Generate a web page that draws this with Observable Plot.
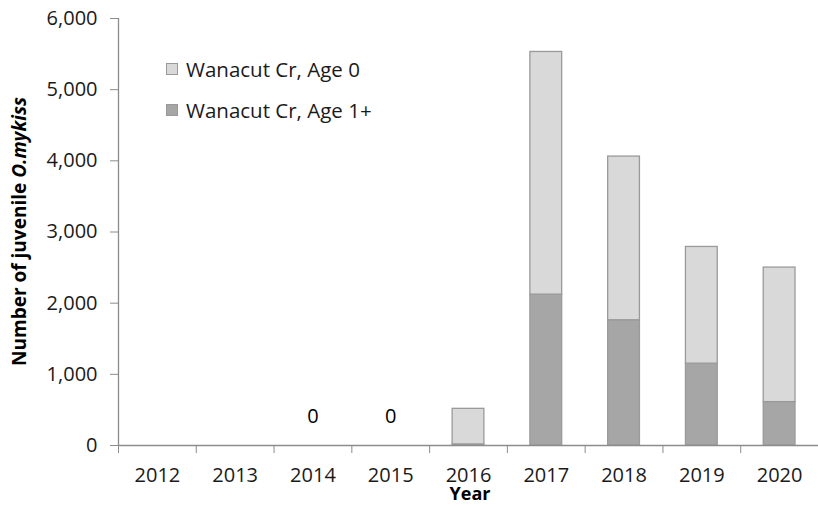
<!DOCTYPE html>
<html>
<head>
<meta charset="utf-8">
<script src="https://cdn.jsdelivr.net/npm/d3@7"></script>
<script src="https://cdn.jsdelivr.net/npm/@observablehq/plot@0.6"></script>
<style>
  html, body { margin: 0; padding: 0; background: #fff; }
  #wrap { position: relative; width: 818px; height: 506px; font-family: "Open Sans", sans-serif; color: #1a1a1a; }
  #legend { position: absolute; left: 166px; top: 58px; font-size: 20.5px; }
  .row { display: flex; align-items: center; height: 22px; margin-bottom: 19px; }
  .sw { width: 12px; height: 12px; box-sizing: border-box; border: 1px solid #999; margin-right: 8px; }
</style>
</head>
<body>
<div id="wrap"><div id="legend"></div></div>
<script>
const years = [2012, 2013, 2014, 2015, 2016, 2017, 2018, 2019, 2020];
const age1plus = [null, null, 0, 0, 15, 2120, 1760, 1150, 610];
const age0 = [null, null, 0, 0, 500, 3410, 2300, 1640, 1890];
const seriesNames = ["Wanacut Cr, Age 0", "Wanacut Cr, Age 1+"];
const seriesColors = ["#d9d9d9", "#a6a6a6"];
const yTicks = [0, 1000, 2000, 3000, 4000, 5000, 6000];

// stacked rows: Age 1+ at the bottom, Age 0 on top
const rows = [];
years.forEach((yr, i) => {
  if (age1plus[i] == null) return;
  rows.push({year: yr, series: seriesNames[1], y1: 0, y2: age1plus[i]});
  rows.push({year: yr, series: seriesNames[0], y1: age1plus[i], y2: age1plus[i] + age0[i]});
});
const zeroLabels = years
  .map((yr, i) => ({year: yr, total: age1plus[i] == null ? null : age1plus[i] + age0[i]}))
  .filter(d => d.total === 0);
const boundaries = years.map(y => y - 0.5).concat([years[years.length - 1] + 0.5]);
const axisColor = "#8c8c8c";

const plot = Plot.plot({
  width: 818,
  height: 506,
  marginLeft: 118,
  marginRight: 0,
  marginTop: 18,
  marginBottom: 61,
  style: {fontFamily: "Open Sans, sans-serif", fontSize: "20px", color: "#1a1a1a", background: "#fff"},
  x: {domain: [years[0] - 0.5, years[years.length - 1] + 0.5]},
  y: {domain: [0, 6000]},
  color: {domain: seriesNames, range: seriesColors},
  marks: [
    Plot.rect(rows, {
      x1: d => d.year - 0.5, x2: d => d.year + 0.5,
      y1: "y1", y2: "y2",
      fill: "series", stroke: "#9a9a9a", strokeWidth: 1.3,
      insetLeft: 23, insetRight: 23
    }),
    Plot.axisY({ticks: yTicks, tickFormat: d3.format(","), tickSize: 8, tickPadding: 13,
      stroke: axisColor, strokeOpacity: 1, label: null, fontSize: 20}),
    Plot.axisX({ticks: boundaries, tickFormat: () => "", tickSize: 8,
      stroke: axisColor, strokeOpacity: 1, label: null}),
    Plot.axisX({ticks: years, tickFormat: d => String(d), tickSize: 0, tickPadding: 22,
      label: null, fontSize: 20}),
    Plot.ruleY([0], {stroke: axisColor, strokeWidth: 1.3}),
    Plot.ruleX([years[0] - 0.5], {stroke: axisColor, strokeWidth: 1.3}),
    Plot.text(zeroLabels, {x: "year", y: 0, text: () => "0", dy: -29, fontSize: 20, fill: "#000"})
  ]
});

const svg = d3.select(plot);
// axis titles
svg.append("text")
  .attr("x", 470).attr("y", 500)
  .attr("text-anchor", "middle")
  .attr("font-weight", "bold").attr("font-size", 18).attr("fill", "#000")
  .text("Year");
const yt = svg.append("text")
  .attr("transform", `translate(19, ${(18 + 445) / 2}) rotate(-90)`)
  .attr("text-anchor", "middle").attr("dy", "0.35em")
  .attr("font-weight", "bold").attr("font-size", 19).attr("fill", "#000");
yt.append("tspan").text("Number of juvenile ");
yt.append("tspan").attr("font-style", "italic").text("O.mykiss");

document.getElementById("wrap").prepend(plot);
plot.style.position = "absolute"; plot.style.left = "0"; plot.style.top = "0";

const legend = d3.select("#legend");
seriesNames.forEach((n, i) => {
  const r = legend.append("div").attr("class", "row");
  r.append("div").attr("class", "sw").style("background", seriesColors[i]);
  r.append("span").text(n);
});
</script>
</body>
</html>
